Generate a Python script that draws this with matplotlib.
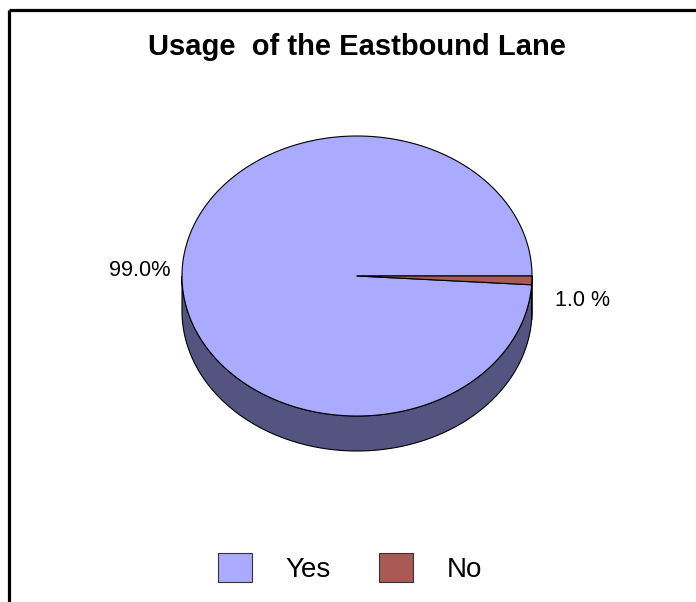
import numpy as np
import matplotlib
matplotlib.use("Agg")
import matplotlib.pyplot as plt
from matplotlib.patches import Polygon, Patch

# === data ===
labels = ["Yes", "No"]
shares = [99.0, 1.0]
pct_labels = ["99.0%", "1.0 %"]
title = "Usage  of the Eastbound Lane"

top_colors = ["#aaaaff", "#aa5a55"]
side_colors = ["#545480", "#6e3a37"]

plt.rcParams["font.family"] = ["Liberation Sans", "DejaVu Sans"]

fig = plt.figure(figsize=(6.96, 6.02), dpi=100)
ax = fig.add_axes([0, 0, 1, 1])
ax.set_xlim(0, 696)
ax.set_ylim(602, 0)
ax.axis("off")

# frame (only top and left edges visible in the crop)
ax.plot([8.5, 696], [10, 10], color="black", lw=2.3, solid_capstyle="butt")
ax.plot([8.5, 8.5], [10, 602], color="black", lw=2.3, solid_capstyle="butt")

ax.text(357, 47, title, ha="center", va="center", fontsize=21, fontweight="bold")

# === 3D pie ===
cx, cy, rx, ry, depth = 357, 276, 175, 140, 35

def pt(theta):
    return cx + rx * np.cos(theta), cy - ry * np.sin(theta)

# slices: Yes counter-clockwise from 0, No clockwise from 0
fr = np.array(shares) / sum(shares)
starts = [0.0, -2 * np.pi * fr[1]]
ends = [2 * np.pi * fr[0], 0.0]

# side walls (front half only, pi..2pi)
for i in range(len(shares)):
    a0, a1 = starts[i], ends[i]
    if a0 < 0:
        a0, a1 = a0 + 2 * np.pi, a1 + 2 * np.pi
    lo, hi = max(a0, np.pi), min(a1, 2 * np.pi)
    if hi <= lo:
        continue
    th = np.linspace(lo, hi, 200)
    xs, ys = pt(th)
    verts = list(zip(xs, ys)) + list(zip(xs[::-1], ys[::-1] + depth))
    ax.add_patch(Polygon(verts, closed=True, facecolor=side_colors[i],
                         edgecolor="black", lw=0.8, joinstyle="round"))

# top faces
for i in range(len(shares)):
    th = np.linspace(starts[i], ends[i], 400)
    xs, ys = pt(th)
    verts = [(cx, cy)] + list(zip(xs, ys))
    ax.add_patch(Polygon(verts, closed=True, facecolor=top_colors[i],
                         edgecolor="black", lw=0.8, joinstyle="round"))

# percentage labels
ax.text(170, 271, pct_labels[0], ha="right", va="center", fontsize=15.7)
ax.text(555, 300, pct_labels[1], ha="left", va="center", fontsize=15.5)

# legend
handles = [Patch(facecolor=c, edgecolor="#333333", lw=0.8) for c in top_colors]
ax.legend(handles, labels, loc="center", bbox_to_anchor=(350, 568),
          bbox_transform=ax.transData, ncol=2, frameon=False, fontsize=20,
          handlelength=1.22, handleheight=1.19, handletextpad=1.19,
          columnspacing=1.76, borderpad=0)

fig.savefig("out.png", dpi=100)
